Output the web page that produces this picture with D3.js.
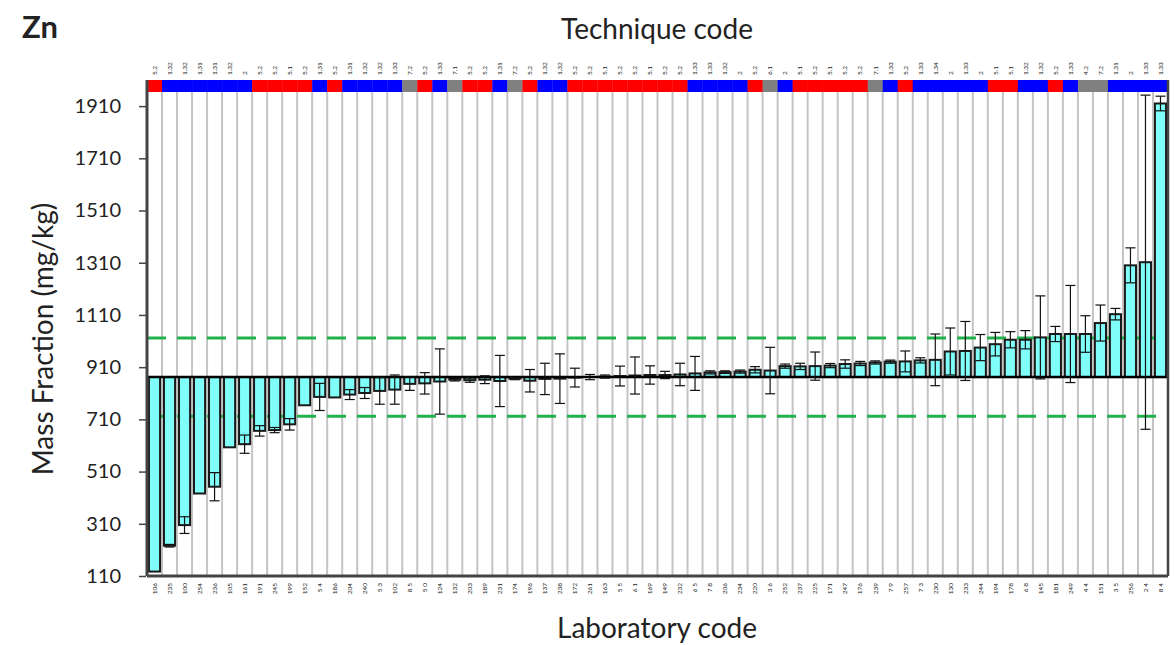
<!DOCTYPE html>
<html>
<head>
<meta charset="utf-8">
<script src="https://cdn.jsdelivr.net/npm/d3@7/dist/d3.min.js"></script>
<style>
  html, body { margin: 0; padding: 0; background: #fff; }
  svg { display: block; }
  text { font-family: Lato, "Liberation Sans", sans-serif; fill: #222; }
</style>
</head>
<body>
<svg id="chart" width="1175" height="645"></svg>
<script>
// Laboratory codes, in plotted (ascending) order
const labCodes = ["106","235","100","254","236","105","161","191","245","199",
  "152","5 4","186","204","240","5 3","102","8 5","5 0","124",
  "132","203","189","231","174","196","137","238","172","261",
  "163","5 5","6 1","169","149","232","6 5","7 8","206","234",
  "220","3 6","252","237","225","171","247","176","239","7 9",
  "257","7 3","230","130","233","244","194","178","6 8","145",
  "181","249","4 4","151","3 5","256","2 4","8 4"];

// Technique code reported by each laboratory
const techCodes = ["5.2","1.32","1.32","1.31","1.31","1.32","2","5.2","5.2","5.1",
  "5.2","1.31","5.2","1.31","1.32","1.32","1.33","7.2","5.2","1.33",
  "7.1","5.2","5.2","1.31","7.2","5.2","1.32","1.32","5.2","5.2",
  "5.1","5.2","5.2","5.1","5.2","5.2","1.33","1.33","1.32","2",
  "5.2","6.1","2","5.1","5.2","5.1","5.2","5.2","7.1","1.33",
  "5.2","1.33","1.34","2","1.33","2","5.1","5.1","1.32","1.32",
  "5.2","1.33","4.2","7.2","1.31","2","1.33","1.33"];

// Reported Zn mass fraction (mg/kg)
const massFraction = [127,226,305,426,452,603,615,666,669,691,
  764,796,794,805,811,819,824,846,848,855,
  862,860,862,857,866,858,865,866,870,872,
  874,876,878,880,880,882,886,890,891,893,
  900,897,914,913,914,916,922,924,928,931,
  932,936,938,970,972,985,998,1015,1015,1024,
  1037,1037,1037,1079,1113,1300,1312,1920];

// Reported expanded uncertainty (mg/kg)
const uncertainty = [0,5,32,0,54,0,35,20,10,22,
  0,52,0,19,21,51,56,25,41,125,
  5,8,15,98,4,43,60,95,36,10,
  6,38,71,35,14,43,65,6,5,6,
  12,89,8,12,54,8,16,8,6,6,
  40,10,99,90,113,50,45,31,35,159,
  29,186,70,69,22,67,640,28];

// Assigned value and acceptance limits
const assignedValue = 872;
const limitLow = 722;
const limitHigh = 1022;

const yTicks = [110,310,510,710,910,1110,1310,1510,1710,1910];

const svg = d3.select("#chart");
const pL = 147, pR = 1168, pT = 80, pB = 576, bandH = 12;

const x = d3.scaleBand().domain(labCodes).range([pL, pR]).padding(0);
const y = d3.scaleLinear().domain([110, 2010]).range([pB, pT]);

const techColor = c => {
  if (c.startsWith("5.")) return "#ff0000";
  if (c.startsWith("1.") || c === "2") return "#0000ff";
  return "#808080";
};

// column separators
svg.append("g").selectAll("line")
  .data(labCodes.slice(1))
  .join("line")
  .attr("x1", d => x(d)).attr("x2", d => x(d))
  .attr("y1", pT + bandH).attr("y2", pB)
  .attr("stroke", "#c4c4c4").attr("stroke-width", 2);

// technique colour band
svg.append("g").selectAll("rect")
  .data(labCodes)
  .join("rect")
  .attr("x", d => x(d)).attr("width", x.bandwidth() + 0.3)
  .attr("y", pT).attr("height", bandH)
  .attr("fill", (d, i) => techColor(techCodes[i]));

// acceptance limits
svg.append("g").selectAll("line")
  .data([limitLow, limitHigh])
  .join("line")
  .attr("x1", pL).attr("x2", pR)
  .attr("y1", d => y(d)).attr("y2", d => y(d))
  .attr("stroke", "#22b14c").attr("stroke-width", 3)
  .attr("stroke-dasharray", "19,11");

// bars from the assigned value
const barW = x.bandwidth() * 0.74;
const off = (x.bandwidth() - barW) / 2;
svg.append("g").selectAll("rect")
  .data(labCodes)
  .join("rect")
  .attr("x", d => x(d) + off).attr("width", barW)
  .attr("y", (d, i) => Math.min(y(massFraction[i]), y(assignedValue)))
  .attr("height", (d, i) => Math.abs(y(massFraction[i]) - y(assignedValue)))
  .attr("fill", "#80fffa").attr("stroke", "#1a1a1a").attr("stroke-width", 2);

// assigned value line
svg.append("line")
  .attr("x1", pL).attr("x2", pR)
  .attr("y1", y(assignedValue)).attr("y2", y(assignedValue))
  .attr("stroke", "#000").attr("stroke-width", 2.5);

// error bars
const eb = svg.append("g").attr("stroke", "#111").attr("stroke-width", 1.2);
labCodes.forEach((d, i) => {
  const u = uncertainty[i];
  if (!u) return;
  const cx = x(d) + x.bandwidth() / 2;
  const y1 = y(massFraction[i] + u), y2 = y(massFraction[i] - u);
  eb.append("line").attr("x1", cx).attr("x2", cx).attr("y1", y1).attr("y2", y2);
  eb.append("line").attr("x1", cx - 5).attr("x2", cx + 5).attr("y1", y1).attr("y2", y1);
  eb.append("line").attr("x1", cx - 5).attr("x2", cx + 5).attr("y1", y2).attr("y2", y2);
});

// frame
svg.append("line").attr("x1", pR).attr("x2", pR).attr("y1", pT).attr("y2", pB)
  .attr("stroke", "#444").attr("stroke-width", 2.5);
svg.append("line").attr("x1", pL).attr("x2", pR).attr("y1", pB).attr("y2", pB)
  .attr("stroke", "#444").attr("stroke-width", 3);
svg.append("line").attr("x1", pL).attr("x2", pL).attr("y1", pT).attr("y2", pB)
  .attr("stroke", "#444").attr("stroke-width", 3);

// y axis
const yAxis = svg.append("g")
  .attr("transform", `translate(${pL - 1},0)`)
  .call(d3.axisLeft(y).tickValues(yTicks).tickSize(7).tickPadding(18).tickFormat(d3.format("d")));
yAxis.select(".domain").remove();
yAxis.selectAll(".tick line").attr("stroke", "#444").attr("stroke-width", 1.5);
yAxis.selectAll(".tick text").attr("font-size", 20).attr("fill", "#222")
  .style("font-family", "Lato, sans-serif");

// technique code labels
svg.append("g").selectAll("text")
  .data(labCodes)
  .join("text")
  .attr("transform", d => `translate(${x(d) + x.bandwidth() / 2 + 2.3},${pT - 5}) rotate(-90)`)
  .attr("font-size", 6.5).attr("fill", "#444")
  .text((d, i) => techCodes[i]);

// laboratory code labels
svg.append("g").selectAll("text")
  .data(labCodes)
  .join("text")
  .attr("transform", d => `translate(${x(d) + x.bandwidth() / 2 + 2.3},${pB + 7}) rotate(-90)`)
  .attr("text-anchor", "end")
  .attr("font-size", 6.5).attr("fill", "#444")
  .text(d => d);

// titles
svg.append("text").attr("x", 22).attr("y", 38).attr("font-size", 31).attr("font-weight", "bold")
  .attr("fill", "#111").text("Zn");
svg.append("text").attr("x", 657).attr("y", 39).attr("text-anchor", "middle")
  .attr("font-size", 28).attr("fill", "#222").text("Technique code");
svg.append("text").attr("x", 657).attr("y", 638).attr("text-anchor", "middle")
  .attr("font-size", 28).attr("fill", "#222").text("Laboratory code");
svg.append("text").attr("transform", "translate(53,339) rotate(-90)").attr("text-anchor", "middle")
  .attr("font-size", 28).attr("fill", "#222").text("Mass Fraction (mg/kg)");
</script>
</body>
</html>
